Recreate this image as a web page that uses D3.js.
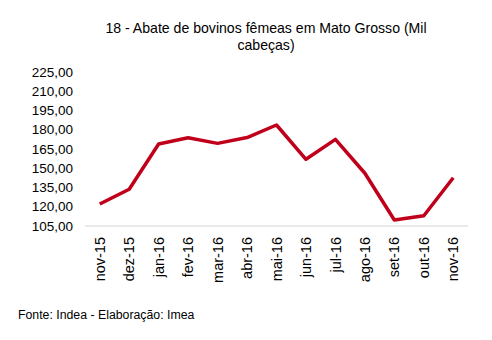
<!DOCTYPE html>
<html><head><meta charset="utf-8">
<script src="https://cdn.jsdelivr.net/npm/d3@7"></script>
<style>
html,body{margin:0;padding:0;background:#fff;}
text{font-family:"Liberation Sans",Arial,Helvetica,sans-serif;fill:#000;}
</style></head>
<body>
<svg id="c" width="492" height="340"></svg>
<script>
const categories = ["nov-15","dez-15","jan-16","fev-16","mar-16","abr-16","mai-16","jun-16","jul-16","ago-16","set-16","out-16","nov-16"];
const values = [122.1,133.6,168.9,173.8,169.4,173.9,183.7,157.0,172.5,146.1,109.7,113.0,142.6];
const yTicks = [105,120,135,150,165,180,195,210,225];
const titleLines = ["18 - Abate de bovinos fêmeas em Mato Grosso (Mil","cabeças)"];
const source = "Fonte: Indea - Elaboração: Imea";

const svg = d3.select("#c");
const x = d3.scaleBand().domain(categories).range([85,468]);
const y = d3.scaleLinear().domain([105,225]).range([226,72]);

svg.selectAll("text.title").data(titleLines).enter().append("text")
  .attr("class","title").attr("x",266).attr("y",(d,i)=>33+i*17)
  .attr("text-anchor","middle").style("font-size","14.1px").text(d=>d);

const fmt = v => d3.format(".2f")(v).replace(".",",");
svg.selectAll("text.yt").data(yTicks).enter().append("text")
  .attr("class","yt").attr("x",73).attr("y",d=>y(d)).attr("dy","0.35em")
  .attr("text-anchor","end").style("font-size","13.5px").text(fmt);

svg.append("line").attr("x1",85).attr("x2",468).attr("y1",y(105)).attr("y2",y(105))
  .attr("stroke","#d4d4d4").attr("stroke-width",1);

svg.selectAll("text.xt").data(categories).enter().append("text")
  .attr("class","xt")
  .attr("transform",d=>`translate(${x(d)+x.bandwidth()/2},${y(105)+11}) rotate(-90)`)
  .attr("dy","0.35em").attr("text-anchor","end").style("font-size","14.5px").text(d=>d);

const line = d3.line().x((d,i)=>x(categories[i])+x.bandwidth()/2).y(d=>y(d));
svg.append("path").datum(values).attr("d",line).attr("fill","none")
  .attr("stroke","#C0001A").attr("stroke-width",3.5).attr("stroke-linejoin","round");

svg.append("text").attr("x",18).attr("y",319).style("font-size","12.3px").text(source);
</script>
</body></html>
